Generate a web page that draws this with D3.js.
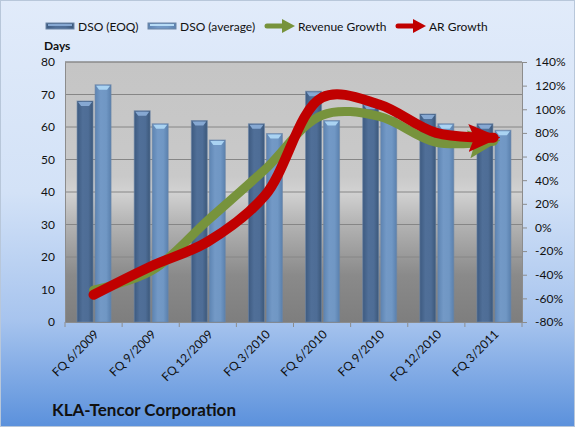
<!DOCTYPE html>
<html>
<head>
<meta charset="utf-8">
<script src="https://cdn.jsdelivr.net/npm/d3@7"></script>
<style>
  body { margin: 0; background: #fff; }
  svg text { font-family: Lato, "Open Sans", sans-serif; fill: #111; }
</style>
</head>
<body>
<div id="chart"></div>
<script>
// KLA-Tencor DSO bars with revenue / AR growth arrows on a second axis.
const quarters = ["FQ 6/2009", "FQ 9/2009", "FQ 12/2009", "FQ 3/2010",
    "FQ 6/2010", "FQ 9/2010", "FQ 12/2010", "FQ 3/2011"];
const dsoEoq = [68, 65, 62, 61, 71, 67, 64, 61];
const dsoAvg = [73, 61, 56, 58, 62, 63, 61, 59];
const revenueGrowth = [-53, -37, 6, 49, 95, 94, 72, 73];
const arGrowth = [-57, -33, -12, 27, 110, 104, 80, 76];
const daysTicks = [0, 10, 20, 30, 40, 50, 60, 70, 80];
const pctTicks = [-80, -60, -40, -20, 0, 20, 40, 60, 80, 100, 120, 140];

const WIDTH = 575, HEIGHT = 427;
const PLOT = { left: 65, right: 522, top: 62, bottom: 322 };

const svg = d3.select("#chart").append("svg")
    .attr("width", WIDTH)
    .attr("height", HEIGHT);

const defs = svg.append("defs");

const vGrad = (id, stops) => {
    const g = defs.append("linearGradient").attr("id", id)
        .attr("x1", 0).attr("y1", 0).attr("x2", 0).attr("y2", 1);
    stops.forEach(([o, c]) => g.append("stop").attr("offset", o).attr("stop-color", c));
};
const hGrad = (id, stops) => {
    const g = defs.append("linearGradient").attr("id", id)
        .attr("x1", 0).attr("y1", 0).attr("x2", 1).attr("y2", 0);
    stops.forEach(([o, c]) => g.append("stop").attr("offset", o).attr("stop-color", c));
};

vGrad("bg", [[0, "#e1ebfa"], [0.45, "#d3e2f7"], [0.75, "#a7c4ee"], [1, "#5b91dc"]]);
vGrad("plotbg", [[0, "#c5c5c5"], [0.44, "#c9c9c9"], [0.5, "#d2d2d2"], [0.62, "#b4b4b4"],
    [0.82, "#8a8a8a"], [1, "#7e7e7e"]]);
hGrad("barDark", [[0, "#3d5a80"], [0.35, "#506f98"], [0.7, "#4e6d96"], [1, "#3b5779"]]);
hGrad("barLight", [[0, "#5d84b2"], [0.35, "#7399c6"], [0.7, "#7097c4"], [1, "#5a80ad"]]);

// Chart background
svg.append("rect")
    .attr("x", 0.5).attr("y", 0.5)
    .attr("width", WIDTH - 1).attr("height", HEIGHT - 1)
    .attr("fill", "url(#bg)")
    .attr("stroke", "#b8c7da");

svg.append("rect")
    .attr("x", PLOT.left).attr("y", PLOT.top)
    .attr("width", PLOT.right - PLOT.left).attr("height", PLOT.bottom - PLOT.top)
    .attr("fill", "url(#plotbg)");

// Scales
const x = d3.scaleBand().domain(quarters).range([PLOT.left, PLOT.right]);
const yDays = d3.scaleLinear().domain([0, 80]).range([PLOT.bottom, PLOT.top]);
const yPct = d3.scaleLinear().domain([-80, 140]).range([PLOT.bottom, PLOT.top]);

// Gridlines
svg.append("g")
    .selectAll("line")
    .data(daysTicks.filter(d => d > 0))
    .join("line")
    .attr("x1", PLOT.left).attr("x2", PLOT.right)
    .attr("y1", d => yDays(d)).attr("y2", d => yDays(d))
    .attr("stroke", "#868686")
    .attr("stroke-width", 1);

// Axes
const leftAxis = svg.append("g")
    .attr("transform", `translate(${PLOT.left},0)`)
    .call(d3.axisLeft(yDays).tickValues(daysTicks).tickSize(0).tickPadding(10));
const rightAxis = svg.append("g")
    .attr("transform", `translate(${PLOT.right},0)`)
    .call(d3.axisRight(yPct).tickValues(pctTicks).tickSize(5).tickPadding(8)
        .tickFormat(d => d + "%"));
const bottomAxis = svg.append("g")
    .attr("transform", `translate(0,${PLOT.bottom})`)
    .call(d3.axisBottom(x).tickSize(0).tickPadding(0));

[leftAxis, rightAxis, bottomAxis].forEach(a => {
    a.selectAll(".domain").attr("stroke", "#8c8c8c");
    a.selectAll(".tick line").attr("stroke", "#8c8c8c");
    a.selectAll("text").style("font-size", "12px").style("font-family", "Lato, sans-serif")
        .attr("fill", "#111");
});

// Category boundary ticks on the bottom axis
bottomAxis.append("g")
    .selectAll("line")
    .data(quarters.concat(["end"]))
    .join("line")
    .attr("x1", (d, i) => PLOT.left + i * x.bandwidth())
    .attr("x2", (d, i) => PLOT.left + i * x.bandwidth())
    .attr("y1", 0).attr("y2", 5)
    .attr("stroke", "#8c8c8c");

bottomAxis.selectAll(".tick text")
    .attr("text-anchor", "end")
    .attr("transform", "translate(3,10) rotate(-45)")
    .attr("dy", "0.35em")
    .attr("y", 0);

svg.append("text")
    .attr("x", 44).attr("y", 50)
    .style("font-size", "12px")
    .style("font-weight", "700")
    .text("Days");

// Bars
const BAR_W = 16;
const barSeries = [
    { values: dsoEoq, offset: -16.5, fill: "url(#barDark)", cap: "#86a8d2" },
    { values: dsoAvg, offset: 1.5, fill: "url(#barLight)", cap: "#aad3f2" }
];
barSeries.forEach(s => {
    const g = svg.append("g");
    const cx = (d, i) => x(quarters[i]) + x.bandwidth() / 2 + s.offset;
    g.selectAll("rect")
        .data(s.values)
        .join("rect")
        .attr("x", cx)
        .attr("y", d => yDays(d))
        .attr("width", BAR_W)
        .attr("height", d => yDays(0) - yDays(d))
        .attr("fill", s.fill)
        .attr("stroke", "#6d86a6")
        .attr("stroke-opacity", 0.6)
        .attr("stroke-width", 1);
    g.selectAll("path")
        .data(s.values)
        .join("path")
        .attr("d", (d, i) => {
            const x0 = cx(d, i), y0 = yDays(d);
            return `M${x0 + 1},${y0 + 1}L${x0 + BAR_W - 1},${y0 + 1}L${x0 + BAR_W - 4},${y0 + 5}L${x0 + 4},${y0 + 5}Z`;
        })
        .attr("fill", s.cap);
});

// Re-draw plot frame
svg.append("line")
    .attr("x1", PLOT.left).attr("x2", PLOT.right)
    .attr("y1", PLOT.top).attr("y2", PLOT.top)
    .attr("stroke", "#8c8c8c");

// Growth arrows
const line = d3.line()
    .x((d, i) => x(quarters[i]) + x.bandwidth() / 2)
    .y(d => yPct(d))
    .curve(d3.curveCatmullRom.alpha(0.5));

const addArrow = (id, color) => {
    defs.append("marker")
        .attr("id", id)
        .attr("viewBox", "0 0 32 32")
        .attr("refX", 25).attr("refY", 16)
        .attr("markerWidth", 32).attr("markerHeight", 32)
        .attr("markerUnits", "userSpaceOnUse")
        .attr("orient", "auto")
        .append("path")
        .attr("d", "M0,2L32,16L0,30L6,16Z")
        .attr("fill", color);
};
addArrow("headGreen", "#77933c");
addArrow("headRed", "#c00000");

const growth = [
    { values: revenueGrowth, color: "#77933c", marker: "headGreen", width: 9 },
    { values: arGrowth, color: "#c00000", marker: "headRed", width: 10 }
];
growth.forEach(s => {
    svg.append("path")
        .datum(s.values)
        .attr("d", line)
        .attr("fill", "none")
        .attr("stroke", s.color)
        .attr("stroke-width", s.width)
        .attr("stroke-linecap", "round")
        .attr("stroke-linejoin", "round")
        .attr("marker-end", `url(#${s.marker})`);
});

// Legend
const legend = svg.append("g").attr("transform", "translate(0,26)");
const legendItems = [
    { label: "DSO (EOQ)", type: "bar", fill: "url(#barDark)", cap: "#86a8d2", x: 46 },
    { label: "DSO (average)", type: "bar", fill: "url(#barLight)", cap: "#b7dcf6", x: 148 },
    { label: "Revenue Growth", type: "arrow", color: "#77933c", x: 265 },
    { label: "AR Growth", type: "arrow", color: "#c00000", x: 396 }
];
legendItems.forEach(it => {
    const g = legend.append("g").attr("transform", `translate(${it.x},0)`);
    if (it.type === "bar") {
        g.append("rect").attr("x", 0).attr("y", -3).attr("width", 28).attr("height", 6)
            .attr("fill", it.fill).attr("stroke", "#6d86a6");
        g.append("rect").attr("x", 2).attr("y", -2).attr("width", 24).attr("height", 2)
            .attr("fill", it.cap);
        g.append("text").attr("x", 32).attr("y", 4.5)
            .style("font-size", "12px").text(it.label);
    } else {
        g.append("line").attr("x1", 2).attr("x2", 20).attr("y1", 0).attr("y2", 0)
            .attr("stroke", it.color).attr("stroke-width", 5).attr("stroke-linecap", "round");
        g.append("path").attr("d", "M17,-7L30,0L17,7Z").attr("fill", it.color);
        g.append("text").attr("x", 33).attr("y", 4.5)
            .style("font-size", "12px").text(it.label);
    }
});

// Title
svg.append("text")
    .attr("x", 52).attr("y", 416)
    .style("font-size", "17px")
    .style("font-weight", "700")
    .text("KLA-Tencor Corporation");
</script>
</body>
</html>
